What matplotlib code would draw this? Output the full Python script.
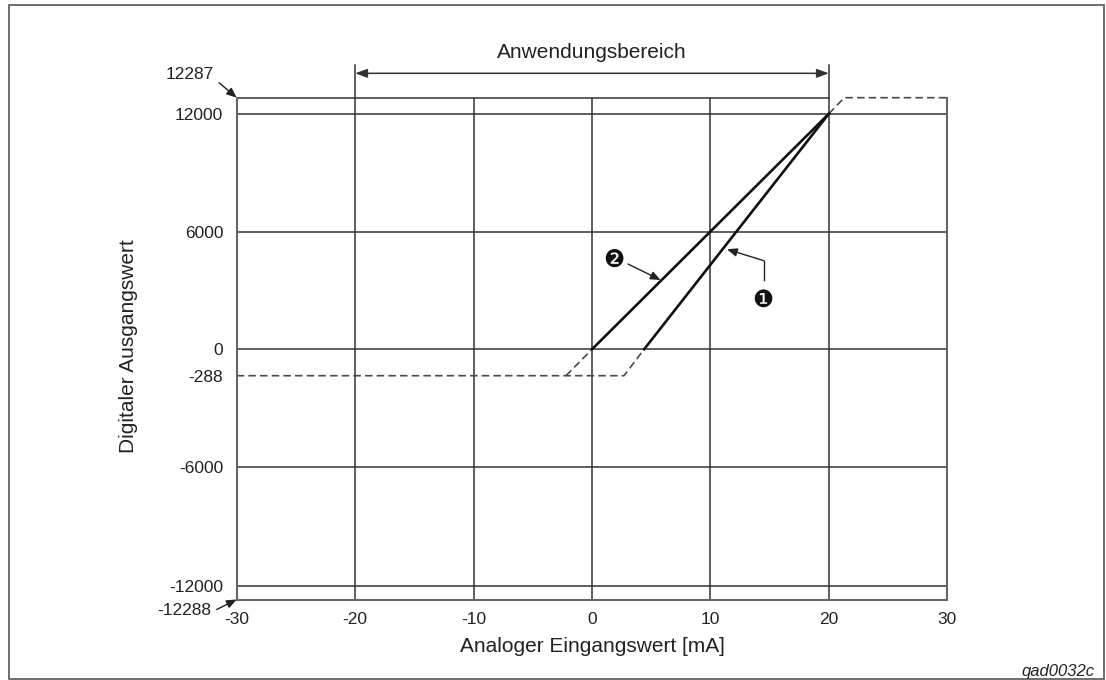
import numpy as np
import matplotlib
matplotlib.use("Agg")
import matplotlib.pyplot as plt
from matplotlib.patches import Rectangle
import matplotlib.transforms as mtransforms

plt.rcParams["font.family"] = ["Liberation Sans", "DejaVu Sans"]
plt.rcParams["axes.unicode_minus"] = False

# ---- data -------------------------------------------------------------
x_ticks = [-30, -20, -10, 0, 10, 20, 30]
x_tick_labels = ["-30", "-20", "-10", "0", "10", "20", "30"]
y_ticks = [-12000, -6000, -288, 0, 6000, 12000]
y_tick_labels = ["-12000", "-6000", "-288", "0", "6000", "12000"]
y_grid = [-12000, -6000, 0, 6000, 12000]
x_grid = [-20, -10, 0, 10, 20]
y_min, y_max = -12288, 12287
x_min, x_max = -30, 30
range_lo, range_hi = -20, 20          # Anwendungsbereich [mA]

# characteristic 1: 4..20 mA -> 0..12000
c1_x = [-30, 2.7, 4.4, 20, 21.3, 30]
c1_y = [-288, -288, 0, 12000, 12287, 12287]
# characteristic 2: 0..20 mA -> 0..12000
c2_x = [-2.2, 0, 20]
c2_y = [-288, 0, 12000]

# ---- non-uniform value axis (the -288 / 12287 / -12288 zone is stretched)
y_breaks = [-12288, -12000, -6000, -288, 0, 12000, 12287]
y_span = [0.0, 14.0, 132.3, 223.8, 250.2, 485.8, 501.8]


def _piecewise(v, xp, fp):
    v = np.asarray(v, dtype=float)
    s_lo = (fp[1] - fp[0]) / (xp[1] - xp[0])
    s_hi = (fp[-1] - fp[-2]) / (xp[-1] - xp[-2])
    return np.where(v < xp[0], fp[0] + (v - xp[0]) * s_lo,
                    np.where(v > xp[-1], fp[-1] + (v - xp[-1]) * s_hi,
                             np.interp(v, xp, fp)))


def fwd(v):
    return _piecewise(v, y_breaks, y_span)


def inv(v):
    return _piecewise(v, y_span, y_breaks)


# ---- figure -----------------------------------------------------------
W, H = 1106, 680
fig = plt.figure(figsize=(W / 100, H / 100), dpi=100)
ax = fig.add_axes([236.7 / W, 1 - 599.5 / H, 710.6 / W, 501.8 / H])
ax.set_yscale("function", functions=(fwd, inv))
ax.set_xlim(x_min, x_max)
ax.set_ylim(y_min, y_max)

txt = "#222222"
grid_c = "#333333"
spine_c = "#666666"
dash_c = "#4a4a4a"

for s in ("left", "right", "bottom"):
    ax.spines[s].set_color(spine_c)
    ax.spines[s].set_linewidth(1.5)
ax.spines["top"].set_visible(False)

ax.set_xticks(x_ticks, labels=x_tick_labels)
ax.set_yticks(y_ticks, labels=y_tick_labels)
ax.yaxis.set_minor_locator(matplotlib.ticker.NullLocator())
ax.tick_params(axis="both", length=0, labelsize=12.5, colors=txt)
ax.tick_params(axis="y", pad=9.6)
ax.tick_params(axis="x", pad=9)

# grid
for gy in y_grid:
    ax.plot([x_min, x_max], [gy, gy], color=grid_c, lw=1.1, zorder=1)
for gx in x_grid:
    ax.plot([gx, gx], [y_min, y_max], color=grid_c, lw=1.1, zorder=1)
# upper frame line, up to the end of the range
ax.plot([x_min, range_hi], [y_max, y_max], color=grid_c, lw=1.1, zorder=1,
        clip_on=False)

# characteristics: dashed outside, solid inside the nominal range
dash_kw = dict(color=dash_c, lw=1.2, linestyle=(0, (4.5, 2.5)), zorder=2,
               clip_on=False)
ax.plot(c1_x[:3], c1_y[:3], **dash_kw)
ax.plot(c1_x[3:], c1_y[3:], **dash_kw)
ax.plot(c2_x[:2], c2_y[:2], **dash_kw)
ax.plot(c1_x[2:4], c1_y[2:4], color="#111111", lw=1.9, zorder=3)
ax.plot(c2_x[1:], c2_y[1:], color="#111111", lw=1.9, zorder=3)

# application range marker above the plot
blend = mtransforms.blended_transform_factory(ax.transData, ax.transAxes)
for gx in (range_lo, range_hi):
    ax.plot([gx, gx], [1.0, 1.0652], transform=blend, color=grid_c, lw=1.1,
            clip_on=False)
ax.annotate("", xy=(range_lo, 1.0486), xytext=(range_hi, 1.0486),
            xycoords=blend, textcoords=blend,
            arrowprops=dict(arrowstyle="<|-|>,head_length=0.6,head_width=0.22",
                            color="#333333", lw=1.1, mutation_scale=12,
                            shrinkA=0, shrinkB=0))
ax.text(0, 1.091, "Anwendungsbereich", transform=blend, ha="center",
        va="center", fontsize=15, color=txt)

# limit values at the corners
corner_arrow = dict(arrowstyle="-|>,head_length=0.6,head_width=0.25",
                    color="#222222", lw=1.0, mutation_scale=10,
                    shrinkA=0, shrinkB=0)
ax.annotate("", xy=(x_min, y_max), xytext=(-12.7, 10.8),
            textcoords="offset points", arrowprops=corner_arrow,
            annotation_clip=False)
ax.annotate("12287", xy=(x_min, y_max), xytext=(-33.8, 17),
            textcoords="offset points", ha="center", va="center",
            fontsize=12.5, color=txt, annotation_clip=False)
ax.annotate("", xy=(x_min, y_min), xytext=(-14.4, -7.2),
            textcoords="offset points", arrowprops=corner_arrow,
            annotation_clip=False)
ax.annotate("-12288", xy=(x_min, y_min), xytext=(-37.6, -7.9),
            textcoords="offset points", ha="center", va="center",
            fontsize=12.5, color=txt, annotation_clip=False)

# curve callouts
ax.text(1.82, 4548, "\u2777", ha="center", va="center", fontsize=17,
        family=["DejaVu Sans"], color="#111111")
ax.annotate("", xy=(5.79, 3530), xytext=(3.04, 4344), arrowprops=corner_arrow)
ax.text(14.44, 2511, "\u2776", ha="center", va="center", fontsize=17,
        family=["DejaVu Sans"], color="#111111")
ax.plot([14.52, 14.52], [3530, 4512], color="#222222", lw=1.0)
ax.annotate("", xy=(11.40, 5093), xytext=(14.52, 4512), arrowprops=corner_arrow)

# axis titles
ax.set_xlabel("Analoger Eingangswert [mA]", fontsize=15, color=txt)
ax.xaxis.label.set_va("center")
ax.xaxis.set_label_coords(0.5, -0.0941)
ax.set_ylabel("Digitaler Ausgangswert", fontsize=15, color=txt)
ax.yaxis.label.set_va("center")
ax.yaxis.set_label_coords(-0.1516, 0.505)

fig.text(1095 / W, 1 - 671.7 / H, "qad0032c", ha="right", va="center",
         fontsize=12, style="italic", color=txt)

# outer frame
fig.patches.append(Rectangle((9 / W, 1 / H), 1095 / W, 674 / H,
                             transform=fig.transFigure, fill=False,
                             edgecolor="#555555", lw=1.2))

fig.savefig("out.png", dpi=100)
